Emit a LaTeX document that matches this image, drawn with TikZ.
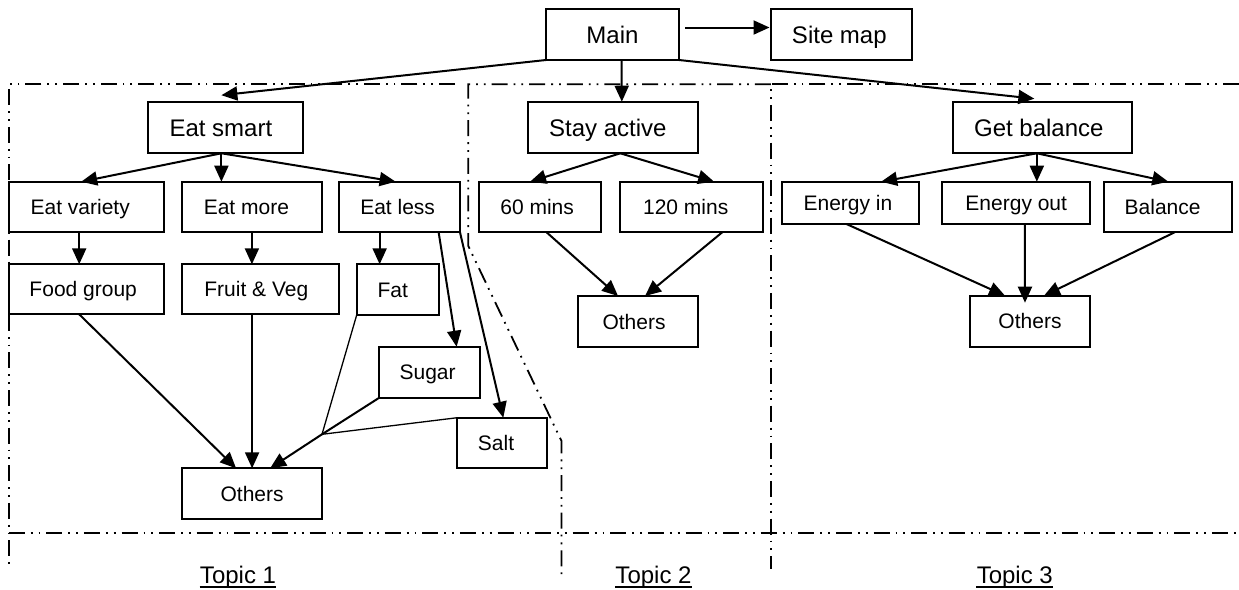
\documentclass[tikz,border=0pt]{standalone}
\usepackage{fontspec}
\setmainfont{Liberation Sans}
\usetikzlibrary{arrows.meta,calc}
\tikzset{
  bx/.style={draw,line width=1pt,inner sep=0pt,outer sep=0pt,rectangle},
  big/.style={font=\fontsize{12}{14}\selectfont,text height=8.6pt,text depth=0pt},
  sml/.style={font=\fontsize{10.5}{12}\selectfont,text height=7.5pt,text depth=0pt},
  arr/.style={line width=1pt,-{Triangle[length=8pt,width=7pt]}},
  thinline/.style={line width=0.65pt},
  thickline/.style={line width=1pt},
  region/.style={line width=0.9pt,dash pattern=on 8pt off 3pt on 0.9pt off 3pt on 0.9pt off 3pt},
  topic/.style={font=\fontsize{12}{14}\selectfont,inner sep=0pt,anchor=base},
  uline/.style={line width=0.9pt},
}
\newcommand\mybox[8][0]{%
  \pgfmathsetmacro\mbw{(#6-#4)*0.5}\pgfmathsetmacro\mbh{(#7-#5)*0.5}%
  \pgfmathsetmacro\mcx{(#4+#6)/2}\pgfmathsetmacro\mcy{(#5+#7)/2}%
  \node[bx,#2,minimum width=\mbw pt,minimum height=\mbh pt] (#3) at (\mcx,\mcy)
    {\makebox[0pt]{\hspace*{#1pt}#8}};}
\begin{document}
\begin{tikzpicture}[x=0.5pt,y=-0.5pt]
\useasboundingbox (0,0) rectangle (1239,590);

% regions
\draw[region] (455,84.3) -- (8.7,84.3) -- (8.7,569);
\draw[region] (770.8,84.3) -- (468.3,84.3) -- (468.3,246) -- (561.5,441) -- (561.5,575);
\draw[region] (1239,84.3) -- (770.8,84.3) -- (770.8,569);
\draw[region] (8.7,533.3) -- (1239,533.3);

% boxes (optional first argument: horizontal text shift, in pt)
\mybox{big}{main}{546}{9}{679}{60}{Main}
\mybox[-2]{big}{sitemap}{771}{9}{911.7}{60}{Site map}
\mybox[-4.5]{big}{es}{147.5}{101.7}{303.3}{153.3}{Eat smart}
\mybox[-5]{big}{sa}{527.9}{101.7}{697.8}{153.3}{Stay active}
\mybox[-3.5]{big}{gb}{952.5}{101.7}{1132.2}{153.3}{Get balance}
\mybox[-6]{sml}{ev}{8.7}{181.7}{163.7}{232.3}{Eat variety}
\mybox[-5.5]{sml}{em}{182.3}{181.7}{321.5}{232.3}{Eat more}
\mybox[-2]{sml}{el}{339.3}{181.7}{460}{232.3}{Eat less}
\mybox[-3]{sml}{m60}{479.2}{181.7}{601}{232.3}{60 mins}
\mybox[-6]{sml}{m120}{620.4}{181.7}{763}{232.3}{120 mins}
\mybox[-2.5]{sml}{ein}{782.2}{181.7}{918.7}{224}{Energy in}
\mybox{sml}{eout}{942.3}{181.7}{1090.2}{224}{Energy out}
\mybox[-5]{sml}{bal}{1103.7}{181.7}{1231.6}{232.3}{Balance}
\mybox[-3]{sml}{fg}{8.7}{264.3}{163.7}{314.3}{Food group}
\mybox[-4.5]{sml}{fv}{182.3}{264.3}{339.3}{314.3}{Fruit \& Veg}
\mybox[-5]{sml}{fat}{356.7}{264.3}{438.9}{315}{Fat}
\mybox[-2]{sml}{sugar}{379.3}{346.7}{480}{397.7}{Sugar}
\mybox[-6]{sml}{salt}{457.3}{417.7}{546.7}{468.3}{Salt}
\mybox{sml}{o1}{182.3}{468.3}{321.9}{519.3}{Others}
\mybox[-4]{sml}{o2}{578.3}{296}{697.8}{347}{Others}
\mybox{sml}{o3}{970.2}{295.7}{1089.8}{347}{Others}

% connectors from Main
\draw[arr] ($(main.east)+(6,-7)$) -- ($(sitemap.west)+(-1.5,-7)$);
\draw[arr] (main.south west) -- ($(es.north)+(-4,-6.5)$);
\draw[arr] ($(main.south)+(9,0)$) -- ($(sa.north)+(9,0)$);
\draw[arr] (main.south east) -- ($(gb.north)+(-8,-3)$);

% topic 1
\coordinate (esb) at ($(es.south)+(-4,0)$);
\draw[arr] (esb) -- ($(ev.north)+(-5,0)$);
\draw[arr] (esb) -- (esb |- em.north);
\draw[arr] (esb) -- ($(el.north)+(-4,0)$);
\draw[arr] ($(ev.south)+(-7,0)$) -- ($(fg.north)+(-7,0)$);
\draw[arr] (em.south) -- (em.south |- fv.north);
\coordinate (elf) at ($(el.south)+(-20,0)$);
\draw[arr] (elf) -- (elf |- fat.north);
\draw[arr] ($(el.south)+(39,0)$) -- ($(sugar.north)+(27,0)$);
\draw[arr] (el.south east) -- ($(salt.north)+(1.3,0)$);
\draw[arr] ($(fg.south)+(-7,0)$) -- ($(o1.north)+(-16,0)$);
\draw[arr] (o1.north |- fv.south) -- (o1.north);
\coordinate (J) at (322,434.3);
\draw[thinline] (fat.south west) -- (J);
\draw[thickline] (sugar.south west) -- (J);
\draw[thinline] (salt.north west) -- (J);
\draw[arr] (J) -- ($(o1.north)+(18,0)$);

% topic 2
\coordinate (sab) at ($(sa.south)+(7.5,0)$);
\draw[arr] (sab) -- ($(m60.north)+(-10,0)$);
\draw[arr] (sab) -- ($(m120.north)+(22.4,0)$);
\draw[arr] ($(m60.south)+(6.5,0)$) -- ($(o2.north)+(-20,0)$);
\draw[arr] ($(m120.south)+(30.5,0)$) -- ($(o2.north)+(7,0)$);

% topic 3
\coordinate (gbb) at ($(gb.south)+(-5.5,0)$);
\draw[arr] (gbb) -- ($(ein.north)+(30.7,0)$);
\draw[arr] (gbb) -- (gbb |- eout.north);
\draw[arr] (gbb) -- ($(bal.north)+(0.7,0)$);
\draw[arr] ($(ein.south)+(-4,0)$) -- ($(o3.north)+(-25,0)$);
\coordinate (eob) at ($(eout.south)+(8.7,0)$);
\coordinate (eot) at ($(o3.north)+(-5,7)$);
\draw[arr] (eob) -- (eot);
\draw[arr] ($(bal.south)+(7,0)$) -- ($(o3.north)+(14,0)$);

% topic labels
\node[topic] (t1) at (238,583.3) {Topic 1};
\node[topic] (t2) at (653.5,583.3) {Topic 2};
\node[topic] (t3) at (1014.8,583.3) {Topic 3};
\draw[uline] ($(t1.base west)+(0,4)$) -- ($(t1.base east)+(0,4)$);
\draw[uline] ($(t2.base west)+(0,4)$) -- ($(t2.base east)+(0,4)$);
\draw[uline] ($(t3.base west)+(0,4)$) -- ($(t3.base east)+(0,4)$);
\end{tikzpicture}
\end{document}
